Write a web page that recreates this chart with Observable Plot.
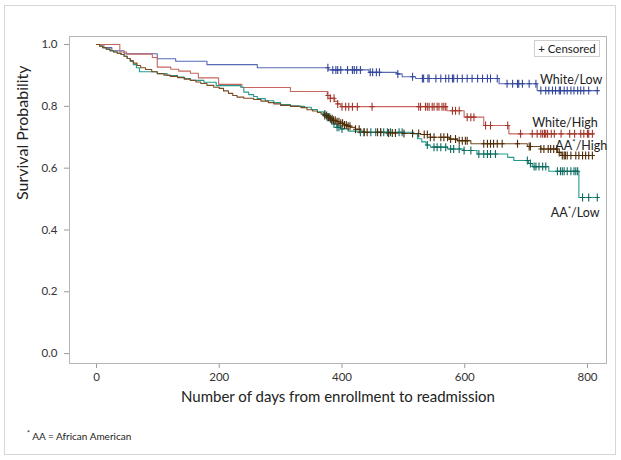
<!DOCTYPE html>
<html><head><meta charset="utf-8">
<script src="https://cdn.jsdelivr.net/npm/d3@7"></script>
<script src="https://cdn.jsdelivr.net/npm/@observablehq/plot@0.6"></script>
<style>
body{margin:0;background:#fff;}
#wrap{position:relative;width:621px;height:460px;font-family:Lato,"Open Sans",sans-serif;overflow:hidden;}
#border{position:absolute;left:4px;top:5px;width:612px;height:450px;border:1px solid #d6d6d6;box-sizing:border-box;}
#chart{position:absolute;left:0;top:0;}
#legend{position:absolute;left:534px;top:40px;width:66px;height:17px;border:1px solid #cfcfcf;box-sizing:border-box;font-size:11.5px;line-height:15px;text-align:center;color:#222;background:#fff;}
#foot{position:absolute;left:27px;top:429px;font-size:10px;color:#222;}
#foot sup{font-size:7px;}
#chart [aria-label$="axis tick"]{stroke:#9a9a9a;}
</style></head>
<body><div id="wrap"><div id="border"></div><div id="chart"></div>
<div id="legend">+ Censored</div>
<div id="foot"><sup>*</sup> AA = African American</div></div>
<script>
const seriesNames = ["White/Low","White/High","AA*/High","AA*/Low"];
const xTicks = [0,200,400,600,800];
const yTicks = [0,0.2,0.4,0.6,0.8,1.0];

// White/Low
const wlTime = [0,12,25,45,99,129,180,262,378,444,490,498,520,656,718,816];
const wlSurv = [1.0,0.99,0.98,0.97,0.954,0.946,0.935,0.925,0.918,0.91,0.905,0.896,0.89,0.873,0.851,0.851];
const wlCens = [377,385,390,393,398,409,417,420,424,430,446,450,456,461,491,515,531,533,540,542,553,561,569,574,580,582,588,596,604,612,621,629,637,642,653,669,678,686,688,694,705,716,724,732,737,743,748,754,756,762,767,773,778,784,789,794,802,816];

// White/High
const whTime = [0,38,49,91,99,121,134,153,166,199,237,316,376,381,388,393,398,571,599,631,672,810];
const whSurv = [1.0,0.976,0.969,0.958,0.927,0.92,0.914,0.907,0.892,0.871,0.861,0.848,0.835,0.826,0.816,0.808,0.799,0.786,0.765,0.738,0.711,0.711];
const whCens = [377,381,387,393,400,406,411,417,425,449,525,528,536,539,542,547,550,555,558,563,566,569,580,585,591,604,610,615,634,642,670,691,710,718,724,727,730,732,735,741,746,757,771,779,789,794,800,802,808];

// AA*/High
const ahTime = [0,5,10,16,22,28,34,40,45,50,55,60,66,72,80,90,99,110,120,132,143,153,162,170,180,191,200,207,215,222,229,240,256,268,280,289,300,316,333,343,352,360,366,370,376,381,386,392,398,404,409,414,422,430,435,470,500,528,544,575,588,610,702,724,751,757,811];
const ahSurv = [1.0,0.995,0.99,0.985,0.98,0.976,0.972,0.968,0.962,0.955,0.948,0.94,0.932,0.925,0.919,0.912,0.906,0.901,0.897,0.893,0.888,0.884,0.879,0.874,0.868,0.862,0.858,0.85,0.842,0.835,0.83,0.826,0.822,0.817,0.812,0.808,0.803,0.8,0.796,0.789,0.785,0.78,0.775,0.77,0.765,0.76,0.755,0.75,0.745,0.74,0.736,0.732,0.726,0.72,0.716,0.714,0.712,0.709,0.7,0.694,0.689,0.679,0.67,0.662,0.651,0.641,0.641];
const ahCens = [372,375,378,381,384,386,389,392,395,398,401,404,407,410,413,422,428,436,441,458,463,476,482,487,501,515,525,534,539,544,550,561,566,572,577,585,591,596,601,604,631,637,642,647,653,661,686,705,707,724,729,736,740,745,750,754,759,762,764,767,773,781,786,792,797,802,808];

// AA*/Low
const alTime = [0,5,10,16,22,28,34,40,45,50,55,60,65,70,99,115,132,143,153,175,195,235,240,248,256,262,275,289,300,316,330,339,350,360,370,376,381,386,392,398,410,425,517,523,530,537,544,572,598,620,670,680,704,710,737,786,818];
const alSurv = [1.0,0.995,0.99,0.985,0.98,0.976,0.972,0.968,0.962,0.955,0.945,0.935,0.925,0.912,0.906,0.9,0.895,0.89,0.884,0.878,0.867,0.862,0.846,0.838,0.832,0.825,0.818,0.812,0.806,0.802,0.8,0.797,0.79,0.782,0.775,0.765,0.755,0.743,0.732,0.727,0.72,0.716,0.711,0.695,0.685,0.675,0.668,0.662,0.657,0.646,0.635,0.625,0.615,0.605,0.59,0.505,0.505];
const alCens = [372,376,380,383,387,392,395,400,430,436,447,455,463,468,474,479,493,498,539,550,555,561,569,577,582,591,599,610,623,631,637,642,650,702,707,713,716,721,727,732,751,756,759,762,767,773,778,781,784,792,802,816];

const series = [
  {name: seriesNames[0], time: wlTime, surv: wlSurv, cens: wlCens, line: "#5868b2", mark: "#34479a"},
  {name: seriesNames[1], time: whTime, surv: whSurv, cens: whCens, line: "#c9665d", mark: "#a3362b"},
  {name: seriesNames[3], time: alTime, surv: alSurv, cens: alCens, line: "#249a8c", mark: "#0c6a5f"},
  {name: seriesNames[2], time: ahTime, surv: ahSurv, cens: ahCens, line: "#7b4b20", mark: "#4e2b05"}
];

function survAt(s, t) {
  let v = s.surv[0];
  for (let i = 0; i < s.time.length; i++) if (s.time[i] <= t) v = s.surv[i];
  return v;
}

const censorSymbol = {draw(ctx) { ctx.moveTo(0,-4); ctx.lineTo(0,4); ctx.moveTo(-2.5,0); ctx.lineTo(2.5,0); }};

const marks = [Plot.frame({stroke: "#b5b5b5"})];
for (const s of series) {
  const pts = s.time.map((t, i) => ({t, s: s.surv[i]}));
  marks.push(Plot.line(pts, {x: "t", y: "s", curve: "step-after", stroke: s.line, strokeWidth: 1.1}));
}
for (const s of series) {
  const cp = s.cens.map(t => ({t, s: survAt(s, t)}));
  marks.push(Plot.dot(cp, {x: "t", y: "s", symbol: censorSymbol, fill: "none", stroke: s.mark, strokeWidth: 1.1}));
}
const lastOf = s => [{t: s.time[s.time.length-1], s: s.surv[s.surv.length-1], name: s.name}];
const lab = {x: "t", y: "s", text: "name", textAnchor: "end", fontSize: 12.5, fill: "#222"};
marks.push(Plot.text(lastOf(series[0]), {...lab, dx: 5, dy: -11}));
marks.push(Plot.text(lastOf(series[1]), {...lab, dx: 4, dy: -11}));
marks.push(Plot.text(lastOf(series[3]), {...lab, dx: 13, dy: -9}));
marks.push(Plot.text(lastOf(series[2]), {...lab, dx: 1, dy: 15}));
marks.push(Plot.text(["Number of days from enrollment to readmission"], {text: d => d, frameAnchor: "bottom", dy: 38, fontSize: 15, fill: "#222"}));
marks.push(Plot.text(["Survival Probability"], {text: d => d, frameAnchor: "left", dx: -47, rotate: -90, fontSize: 16, fill: "#222"}));

const chart = Plot.plot({
  width: 621, height: 415,
  marginLeft: 69, marginRight: 15, marginTop: 36, marginBottom: 52,
  style: {fontFamily: "Lato, 'Open Sans', sans-serif", fontSize: "11.5px", color: "#333", background: "transparent"},
  x: {domain: [-44, 831], ticks: xTicks, tickSize: 5, tickPadding: 4, label: null},
  y: {domain: [-0.032, 1.026], ticks: yTicks, tickFormat: d3.format(".1f"), tickSize: 5, tickPadding: 7, label: null},
  marks
});
// superscript asterisk in the AA* labels
chart.querySelectorAll("text").forEach(el => {
  const txt = el.textContent;
  if (txt.startsWith("AA*")) {
    el.textContent = "";
    const ns = "http://www.w3.org/2000/svg";
    const a = document.createElementNS(ns, "tspan"); a.textContent = "AA";
    const b = document.createElementNS(ns, "tspan"); b.textContent = "*";
    b.setAttribute("font-size", "8"); b.setAttribute("dy", "-5");
    const c = document.createElementNS(ns, "tspan"); c.textContent = txt.slice(3);
    c.setAttribute("dy", "5");
    el.append(a, b, c);
  }
});
document.getElementById("chart").appendChild(chart);
</script></body></html>
